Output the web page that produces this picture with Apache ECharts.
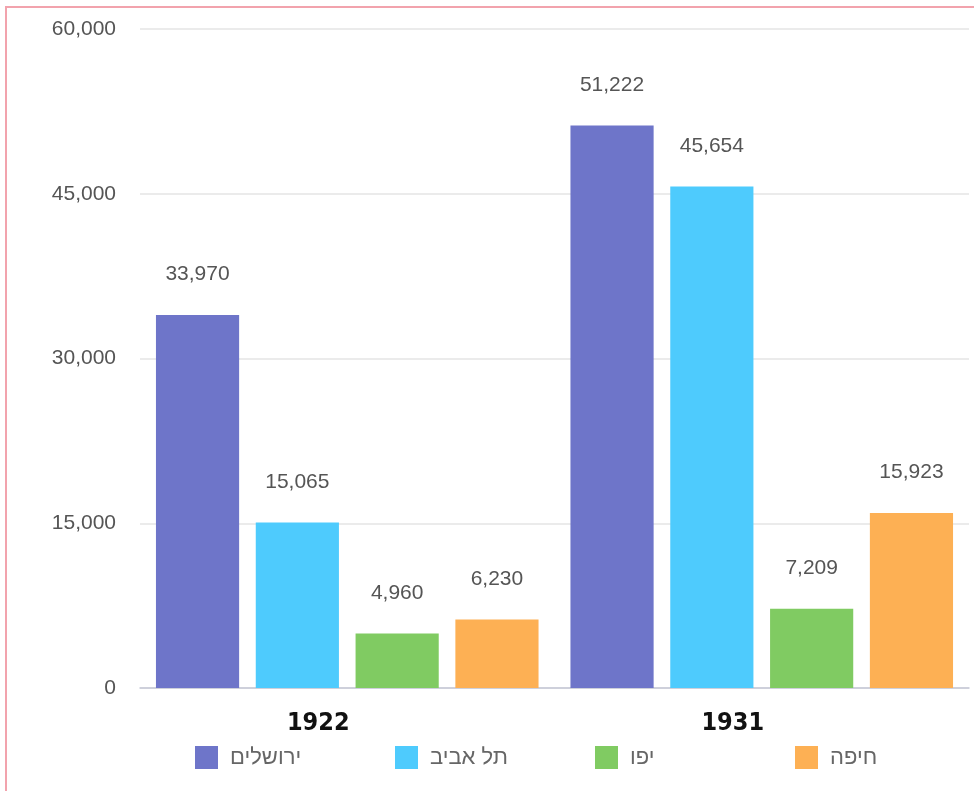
<!DOCTYPE html>
<html><head><meta charset="utf-8">
<script src="https://cdn.jsdelivr.net/npm/echarts@6/dist/echarts.min.js"></script>
<style>
html,body{margin:0;padding:0;background:#fff;}
#frame{position:absolute;left:5px;top:6px;width:980px;height:800px;border-left:2px solid #f2a3ad;border-top:2px solid #f2a3ad;}
#chart{position:absolute;left:0;top:0;width:974px;height:791px;}
</style></head>
<body>
<div id="frame"></div>
<div id="chart"></div>
<script>
const years = ['1922', '1931'];
const cities = ['ירושלים', 'תל אביב', 'יפו', 'חיפה'];
const jerusalem = [33970, 51222];
const telAviv = [15065, 45654];
const jaffa = [4960, 7209];
const haifa = [6230, 15923];
const colors = ['#6e75c9', '#4ecbfd', '#80cb62', '#fdb054'];
const seriesData = [jerusalem, telAviv, jaffa, haifa];
const legendLeft = [195, 395, 595, 795];

const fmt = v => Number(v).toLocaleString('en-US');
const chart = echarts.init(document.getElementById('chart'));
chart.setOption({
  animation: false,
  grid: {left: 140, right: 5, top: 29, bottom: 103},
  legend: cities.map((c, i) => ({
    data: [c], left: legendLeft[i], top: 746, padding: 0, itemWidth: 23, itemHeight: 23, icon: 'rect',
    textStyle: {fontSize: 22, color: '#666', padding: [0, 0, 0, 7], fontFamily: "'Liberation Sans', Arial, sans-serif"}
  })),
  xAxis: {
    type: 'category', data: years,
    axisLine: {lineStyle: {color: '#c5c8d6', width: 1.5}},
    axisTick: {show: false},
    axisLabel: {fontSize: 25, fontWeight: 'bold', color: '#111', margin: 23, padding: [0, 58, 0, 0],
      fontFamily: "'DejaVu Sans Condensed', 'Liberation Sans Narrow', sans-serif"}
  },
  yAxis: {
    type: 'value', min: 0, max: 60000, interval: 15000,
    axisLine: {show: false}, axisTick: {show: false},
    splitLine: {lineStyle: {color: '#e4e4e4', width: 1.5}},
    axisLabel: {fontSize: 21, color: '#555', margin: 24, formatter: fmt,
      fontFamily: "'Liberation Sans', Arial, sans-serif"}
  },
  series: seriesData.map((d, i) => ({
    type: 'bar', name: cities[i], data: d,
    itemStyle: {color: colors[i]},
    barCategoryGap: '7.7%', barGap: '20%',
    label: {show: true, position: 'top', distance: 30, fontSize: 21, color: '#555',
      fontFamily: "'Liberation Sans', Arial, sans-serif", formatter: p => fmt(p.value)}
  }))
});
</script>
</body></html>
